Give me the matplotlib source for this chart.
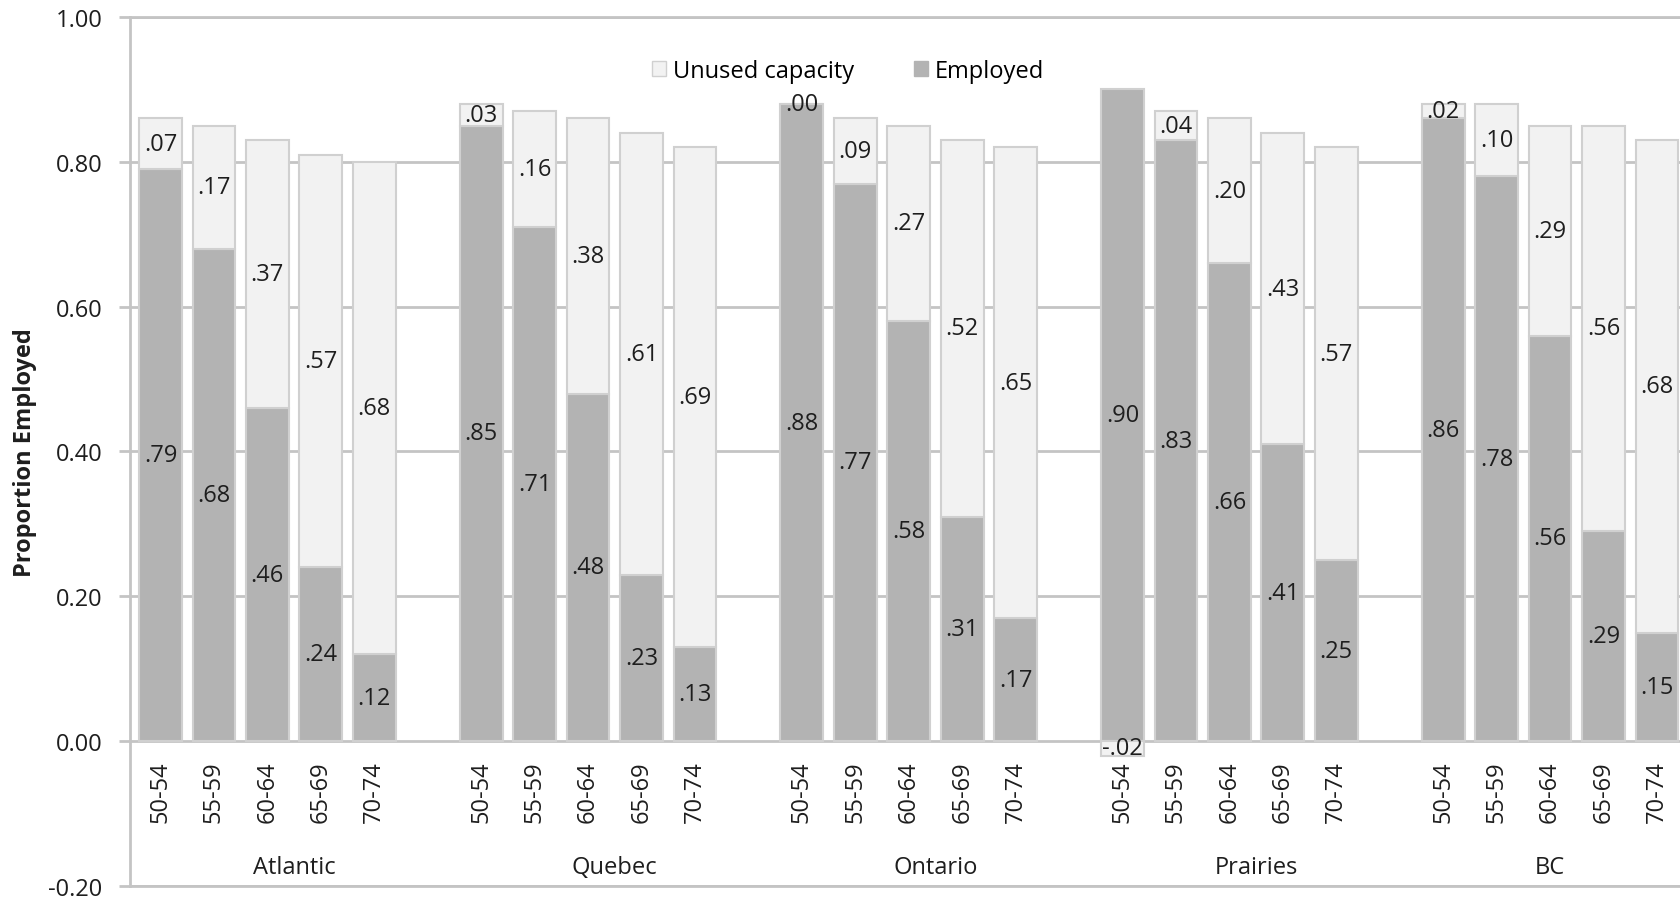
import matplotlib.pyplot as plt
from matplotlib.patches import Patch
import numpy as np

regions = ["Atlantic", "Quebec", "Ontario", "Prairies", "BC"]
age_groups = ["50-54", "55-59", "60-64", "65-69", "70-74"]

employed = [
    [.79, .68, .46, .24, .12],
    [.85, .71, .48, .23, .13],
    [.88, .77, .58, .31, .17],
    [.90, .83, .66, .41, .25],
    [.86, .78, .56, .29, .15],
]
unused = [
    [.07, .17, .37, .57, .68],
    [.03, .16, .38, .61, .69],
    [.00, .09, .27, .52, .65],
    [-.02, .04, .20, .43, .57],
    [.02, .10, .29, .56, .68],
]

plt.rcParams['font.family'] = ['Open Sans', 'DejaVu Sans']

DARK = '#b3b3b3'
LIGHT = '#f2f2f2'
EDGE = '#d0d0d0'
GRID = '#c4c4c4'
TXT = '#1e1e1e'
FS = 17


def short(v):
    # Excel style: .79, -.02
    return f"{v:.2f}".replace("0.", ".", 1)


fig = plt.figure(figsize=(16.81, 9.03), dpi=100)
ax = fig.add_axes([130 / 1681, 16 / 903, 1 - 130 / 1681, 1 - 34 / 903])

slot = len(age_groups) + 1
width = 0.8
for g, region in enumerate(regions):
    xs = np.arange(len(age_groups)) + g * slot
    emp = np.array(employed[g])
    unu = np.array(unused[g])
    # negative values hang below zero, as a stacked column chart does
    bottom = np.where(unu >= 0, emp, 0)
    ax.bar(xs, emp, width=width, color=DARK, edgecolor=EDGE, linewidth=1.5, zorder=3)
    ax.bar(xs, unu, width=width, bottom=bottom, color=LIGHT, edgecolor=EDGE,
           linewidth=1.5, zorder=3)
    for i, x in enumerate(xs):
        ax.text(x, emp[i] / 2, short(emp[i]), ha='center', va='center',
                fontsize=FS, color=TXT, zorder=5)
        ax.text(x, bottom[i] + unu[i] / 2, short(unu[i]), ha='center',
                va='center', fontsize=FS, color=TXT, zorder=5)
        ax.text(x, -0.026, age_groups[i], rotation=90, ha='center', va='top',
                fontsize=FS, color=TXT, zorder=5)
    # group label sits under its block of categories (trailing blank included)
    end = xs[-1] + (1 if g < len(regions) - 1 else 0)
    ax.text((xs[0] + end) / 2, -0.174, region, ha='center', va='center',
            fontsize=FS, color=TXT)

ax.set_xlim(-0.57, 28.45)
ax.set_ylim(-0.2, 1.0)
ax.set_xticks([])
yt = np.round(np.arange(-0.2, 1.01, 0.2), 2)
ax.set_yticks(yt)
ax.set_yticklabels([f"{v:.2f}" for v in yt], fontsize=FS, color=TXT)
ax.tick_params(axis='y', length=8, width=2, color=GRID, pad=12)
ax.yaxis.grid(True, color=GRID, linewidth=2, zorder=0)
ax.set_axisbelow(True)
for side in ['top', 'bottom', 'left']:
    ax.spines[side].set_color(GRID)
    ax.spines[side].set_linewidth(2)
ax.spines['right'].set_visible(False)

ax.set_ylabel("Proportion Employed", fontsize=17, fontweight='bold', color=TXT,
              labelpad=8)

handles = [Patch(facecolor=LIGHT, edgecolor=EDGE, label="Unused capacity"),
           Patch(facecolor=DARK, edgecolor=DARK, label="Employed")]
ax.legend(handles=handles, loc='center', bbox_to_anchor=(0.463, 0.938), ncol=2,
          frameon=False, fontsize=FS, handlelength=0.6, handleheight=0.6,
          handletextpad=0.3, columnspacing=2.5)

fig.savefig("out.png", dpi=100)
